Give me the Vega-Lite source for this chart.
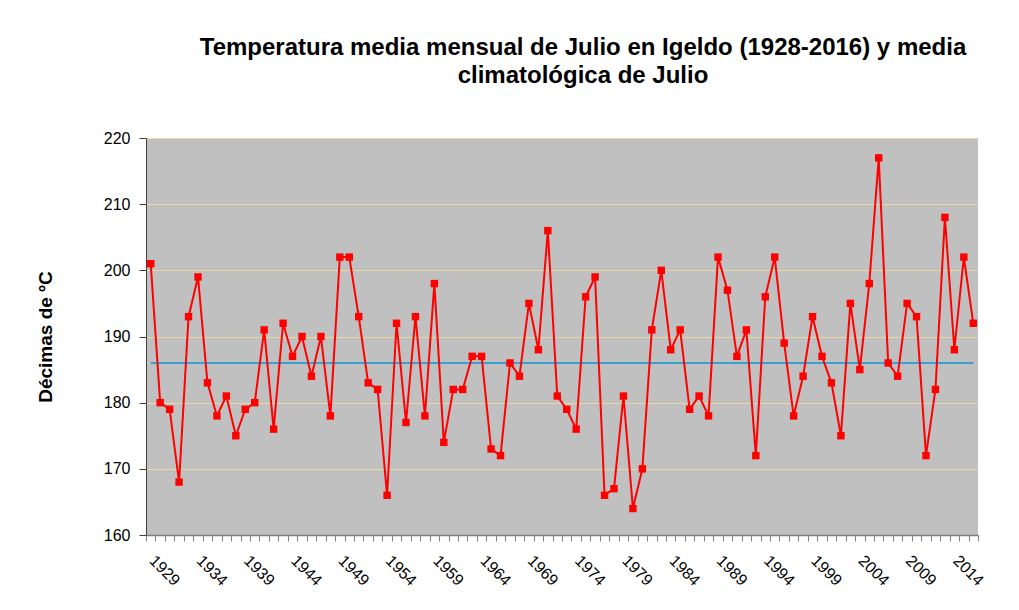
{
  "$schema": "https://vega.github.io/schema/vega-lite/v6.json",
  "autosize": "none",
  "width": 832,
  "height": 397,
  "padding": {"left": 146, "top": 138, "right": 41, "bottom": 75},
  "background": "white",
  "title": {
    "text": ["Temperatura media mensual de Julio en Igeldo (1928-2016) y  media", "climatológica  de Julio"],
    "font": "Liberation Sans",
    "fontSize": 24,
    "fontWeight": "bold",
    "color": "black",
    "anchor": "middle",
    "frame": "group",
    "dx": 21,
    "offset": 42,
    "lineHeight": 28
  },
  "data": {"values": [
    {"year": 1928, "temp": 201, "media": 186},
    {"year": 1929, "temp": 180, "media": 186},
    {"year": 1930, "temp": 179, "media": 186},
    {"year": 1931, "temp": 168, "media": 186},
    {"year": 1932, "temp": 193, "media": 186},
    {"year": 1933, "temp": 199, "media": 186},
    {"year": 1934, "temp": 183, "media": 186},
    {"year": 1935, "temp": 178, "media": 186},
    {"year": 1936, "temp": 181, "media": 186},
    {"year": 1937, "temp": 175, "media": 186},
    {"year": 1938, "temp": 179, "media": 186},
    {"year": 1939, "temp": 180, "media": 186},
    {"year": 1940, "temp": 191, "media": 186},
    {"year": 1941, "temp": 176, "media": 186},
    {"year": 1942, "temp": 192, "media": 186},
    {"year": 1943, "temp": 187, "media": 186},
    {"year": 1944, "temp": 190, "media": 186},
    {"year": 1945, "temp": 184, "media": 186},
    {"year": 1946, "temp": 190, "media": 186},
    {"year": 1947, "temp": 178, "media": 186},
    {"year": 1948, "temp": 202, "media": 186},
    {"year": 1949, "temp": 202, "media": 186},
    {"year": 1950, "temp": 193, "media": 186},
    {"year": 1951, "temp": 183, "media": 186},
    {"year": 1952, "temp": 182, "media": 186},
    {"year": 1953, "temp": 166, "media": 186},
    {"year": 1954, "temp": 192, "media": 186},
    {"year": 1955, "temp": 177, "media": 186},
    {"year": 1956, "temp": 193, "media": 186},
    {"year": 1957, "temp": 178, "media": 186},
    {"year": 1958, "temp": 198, "media": 186},
    {"year": 1959, "temp": 174, "media": 186},
    {"year": 1960, "temp": 182, "media": 186},
    {"year": 1961, "temp": 182, "media": 186},
    {"year": 1962, "temp": 187, "media": 186},
    {"year": 1963, "temp": 187, "media": 186},
    {"year": 1964, "temp": 173, "media": 186},
    {"year": 1965, "temp": 172, "media": 186},
    {"year": 1966, "temp": 186, "media": 186},
    {"year": 1967, "temp": 184, "media": 186},
    {"year": 1968, "temp": 195, "media": 186},
    {"year": 1969, "temp": 188, "media": 186},
    {"year": 1970, "temp": 206, "media": 186},
    {"year": 1971, "temp": 181, "media": 186},
    {"year": 1972, "temp": 179, "media": 186},
    {"year": 1973, "temp": 176, "media": 186},
    {"year": 1974, "temp": 196, "media": 186},
    {"year": 1975, "temp": 199, "media": 186},
    {"year": 1976, "temp": 166, "media": 186},
    {"year": 1977, "temp": 167, "media": 186},
    {"year": 1978, "temp": 181, "media": 186},
    {"year": 1979, "temp": 164, "media": 186},
    {"year": 1980, "temp": 170, "media": 186},
    {"year": 1981, "temp": 191, "media": 186},
    {"year": 1982, "temp": 200, "media": 186},
    {"year": 1983, "temp": 188, "media": 186},
    {"year": 1984, "temp": 191, "media": 186},
    {"year": 1985, "temp": 179, "media": 186},
    {"year": 1986, "temp": 181, "media": 186},
    {"year": 1987, "temp": 178, "media": 186},
    {"year": 1988, "temp": 202, "media": 186},
    {"year": 1989, "temp": 197, "media": 186},
    {"year": 1990, "temp": 187, "media": 186},
    {"year": 1991, "temp": 191, "media": 186},
    {"year": 1992, "temp": 172, "media": 186},
    {"year": 1993, "temp": 196, "media": 186},
    {"year": 1994, "temp": 202, "media": 186},
    {"year": 1995, "temp": 189, "media": 186},
    {"year": 1996, "temp": 178, "media": 186},
    {"year": 1997, "temp": 184, "media": 186},
    {"year": 1998, "temp": 193, "media": 186},
    {"year": 1999, "temp": 187, "media": 186},
    {"year": 2000, "temp": 183, "media": 186},
    {"year": 2001, "temp": 175, "media": 186},
    {"year": 2002, "temp": 195, "media": 186},
    {"year": 2003, "temp": 185, "media": 186},
    {"year": 2004, "temp": 198, "media": 186},
    {"year": 2005, "temp": 217, "media": 186},
    {"year": 2006, "temp": 186, "media": 186},
    {"year": 2007, "temp": 184, "media": 186},
    {"year": 2008, "temp": 195, "media": 186},
    {"year": 2009, "temp": 193, "media": 186},
    {"year": 2010, "temp": 172, "media": 186},
    {"year": 2011, "temp": 182, "media": 186},
    {"year": 2012, "temp": 208, "media": 186},
    {"year": 2013, "temp": 188, "media": 186},
    {"year": 2014, "temp": 202, "media": 186},
    {"year": 2015, "temp": 192, "media": 186}
  ]},
  "encoding": {
    "x": {
      "field": "year",
      "type": "ordinal",
      "scale": {"type": "band", "paddingInner": 0, "paddingOuter": 0},
      "axis": {
        "title": null,
        "labelExpr": "(toNumber(datum.value) - 1929) % 5 == 0 ? datum.value : ''",
        "labelAngle": 45,
        "labelAlign": "left",
        "labelBaseline": "top",
        "labelFont": "Liberation Sans",
        "labelFontSize": 16,
        "labelColor": "black",
        "labelPadding": 11,
        "labelOffset": -3,
        "labelOverlap": false,
        "labelBound": false,
        "labelFlush": false,
        "tickBand": "extent",
        "tickSize": 6,
        "tickColor": "#808080",
        "domainColor": "#808080",
        "domainWidth": 1.5,
        "grid": false
      }
    }
  },
  "layer": [
    {
      "mark": {"type": "line", "color": "#3AA0D2", "strokeWidth": 2},
      "encoding": {
        "y": {
          "field": "media",
          "type": "quantitative",
          "scale": {"domain": [160, 220], "nice": false, "zero": false},
          "axis": {
            "title": "Décimas de ºC",
            "titleFont": "Liberation Sans",
            "titleFontSize": 19,
            "titleFontWeight": "bold",
            "titleColor": "black",
            "titlePadding": 48,
            "values": [160, 170, 180, 190, 200, 210, 220],
            "labelFont": "Liberation Sans",
            "labelFontSize": 16,
            "labelColor": "black",
            "labelPadding": 9,
            "tickSize": 7,
            "tickColor": "#404040",
            "domainColor": "#404040",
            "grid": true,
            "gridColor": "#EAD7A2",
            "gridWidth": 1
          }
        }
      }
    },
    {
      "mark": {"type": "line", "color": "#FF0000", "strokeWidth": 2},
      "encoding": {"y": {"field": "temp", "type": "quantitative"}}
    },
    {
      "mark": {"type": "point", "shape": "square", "filled": true, "color": "#FF0000", "opacity": 1, "size": 55},
      "encoding": {"y": {"field": "temp", "type": "quantitative"}}
    }
  ],
  "config": {
    "view": {"fill": "#C0C0C0", "stroke": null}
  }
}
